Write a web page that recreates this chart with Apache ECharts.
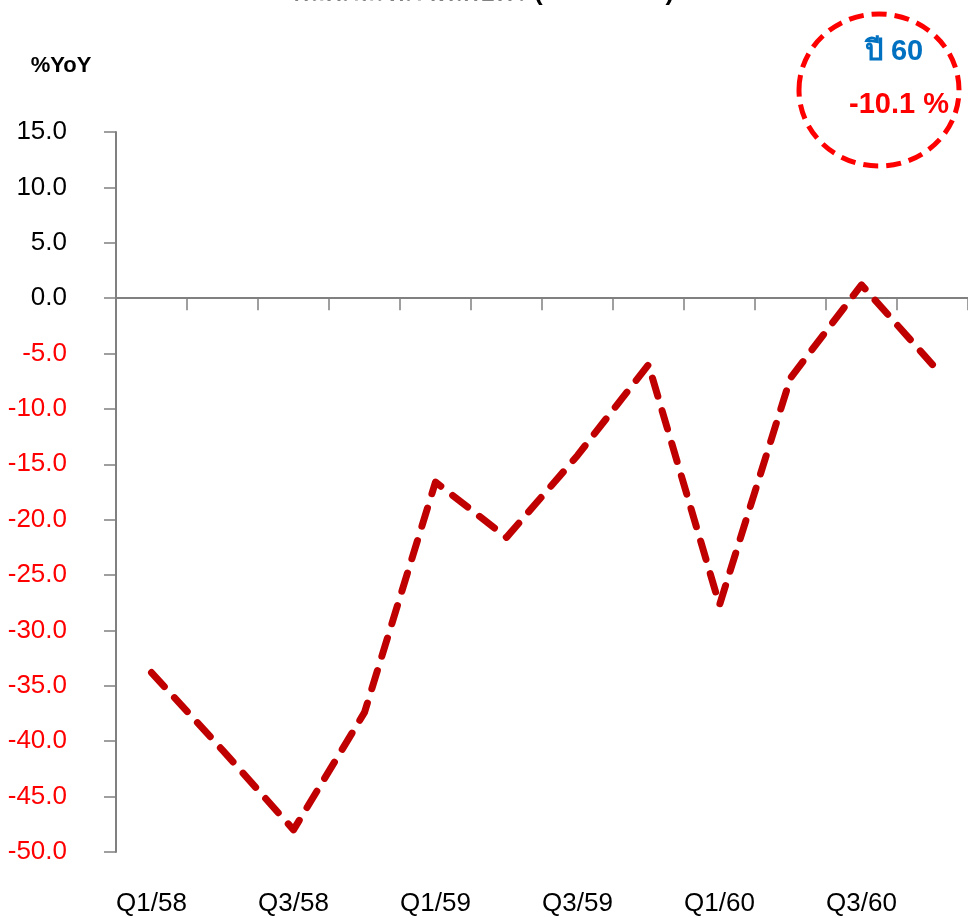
<!DOCTYPE html>
<html>
<head>
<meta charset="utf-8">
<script src="https://cdn.jsdelivr.net/npm/echarts@6/dist/echarts.min.js"></script>
<style>
html,body{margin:0;padding:0;background:#fff;}
#chart{width:968px;height:918px;}
</style>
</head>
<body>
<div id="chart"></div>
<script>
const categories = ['Q1/58','Q2/58','Q3/58','Q4/58','Q1/59','Q2/59','Q3/59','Q4/59','Q1/60','Q2/60','Q3/60','Q4/60'];
const values = [-33.8, -40.8, -48.0, -37.4, -16.6, -21.6, -14.2, -6.0, -27.7, -7.2, 1.2, -6.0];
const yMin = -50, yMax = 15, yStep = 5;
const titleText = 'ผลิตภัณฑ์ภาคเกษตร (DMF - CPI)';
const unitText = '%YoY';
const noteYear = 'ปี 60';
const noteValue = '-10.1 %';

const FONT = '"Liberation Sans", Arial, "Noto Sans", sans-serif';
const chart = echarts.init(document.getElementById('chart'), null, {renderer: 'canvas'});
chart.setOption({
  animation: false,
  backgroundColor: '#ffffff',
  grid: {left: 116, top: 132, right: 0, bottom: 66, containLabel: false},
  xAxis: [
    {
      type: 'category', data: categories, boundaryGap: true,
      axisLine: {onZero: true, lineStyle: {color: '#808080', width: 2}},
      axisTick: {show: true, length: 12, lineStyle: {color: '#808080', width: 1.5}},
      axisLabel: {show: false},
      splitLine: {show: false}
    },
    {
      type: 'category', data: categories, boundaryGap: true, position: 'bottom',
      axisLine: {show: false, onZero: false},
      axisTick: {show: false},
      axisLabel: {show: true, interval: 1, margin: 39, fontSize: 26, color: '#000', fontFamily: FONT},
      splitLine: {show: false}
    }
  ],
  yAxis: {
    type: 'value', min: yMin, max: yMax, interval: yStep,
    axisLine: {show: true, lineStyle: {color: '#808080', width: 2}},
    axisTick: {show: true, length: 12, lineStyle: {color: '#808080', width: 1.5}},
    splitLine: {show: false},
    axisLabel: {
      margin: 49, fontSize: 26, fontFamily: FONT,
      formatter: v => v.toFixed(1),
      color: v => (Number(v) < 0 ? '#FF0000' : '#000000')
    }
  },
  series: [{
    type: 'line', xAxisIndex: 0, data: values, symbol: 'none', smooth: false,
    lineStyle: {color: '#C00000', width: 7, type: [19, 15], cap: 'round', join: 'round'}
  }],
  graphic: [
    {type: 'text', left: 'center', style: {text: titleText, x: 0, y: 0, fill: '#000', font: 'bold 26px ' + FONT}, position: [0, -20], z: 10},
    {type: 'text', style: {text: unitText, x: 61, y: 66, align: 'center', verticalAlign: 'middle', fill: '#000', font: 'bold 22px ' + FONT}},
    {type: 'ellipse', shape: {cx: 879, cy: 90, rx: 80, ry: 76}, style: {fill: 'none', stroke: '#FF0000', lineWidth: 5, lineDash: [15, 8]}},
    {type: 'text', style: {text: noteYear, x: 894, y: 52, align: 'center', verticalAlign: 'middle', fill: '#0070C0', font: 'bold 29px ' + FONT}},
    {type: 'text', style: {text: noteValue, x: 899, y: 105, align: 'center', verticalAlign: 'middle', fill: '#FF0000', font: 'bold 29px ' + FONT}}
  ]
});
</script>
</body>
</html>
